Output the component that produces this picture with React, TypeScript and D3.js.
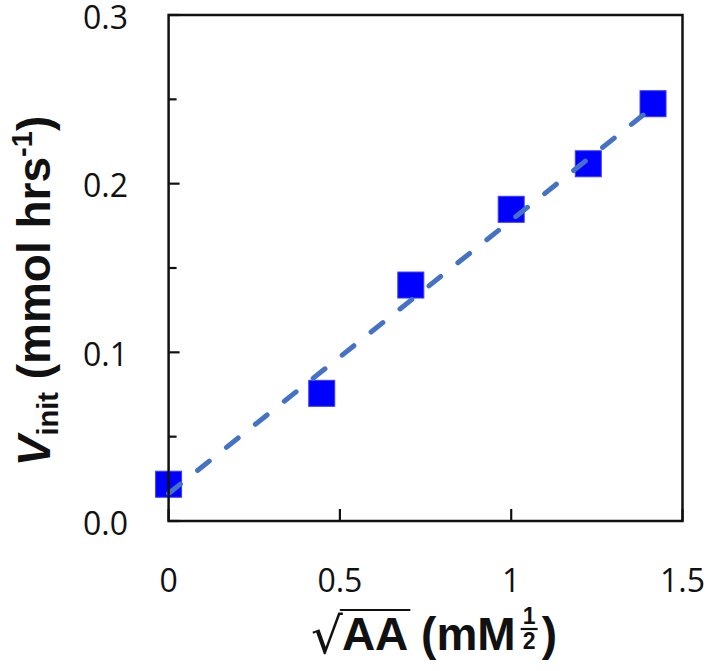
import React, { useEffect, useRef } from "react";
import * as d3 from "d3";

// Data
const sqrtAA = [0, 0.447, 0.707, 1.0, 1.225, 1.414];
const vInit = [0.0218, 0.0757, 0.1399, 0.1848, 0.2118, 0.2474];
const xTicks = [0, 0.5, 1, 1.5];
const xTickLabels = ["0", "0.5", "1", "1.5"];
const yMajorTicks = [0, 0.1, 0.2, 0.3];
const yTickLabels = ["0.0", "0.1", "0.2", "0.3"];
const yMinorTicks = [0.05, 0.15, 0.25];
const fitIntercept = 0.0163;
const fitSlope = 0.162;
const fitRange = [0, 1.414];

const W = 710;
const H = 671;
const PL = 168.6, PR = 682.5, PT = 15, PB = 521;

export default function App() {
  const ref = useRef<SVGSVGElement | null>(null);

  useEffect(() => {
    const svg = d3.select(ref.current);
    svg.selectAll("*").remove();

    const x = d3.scaleLinear().domain([0, 1.5]).range([PL, PR]);
    const y = d3.scaleLinear().domain([0, 0.3]).range([PB, PT]);

    const tickFont = "'Open Sans', 'Liberation Sans', sans-serif";
    const titleFont = "'Liberation Sans', Arial, sans-serif";

    // markers
    const pts = sqrtAA.map((v, i) => ({ x: v, y: vInit[i] }));
    const S = 26;
    svg.append("g").selectAll("rect").data(pts).enter().append("rect")
      .attr("x", d => x(d.x) - S / 2)
      .attr("y", d => y(d.y) - S / 2)
      .attr("width", S).attr("height", S)
      .attr("fill", "#0000FF")
      .attr("stroke", "#3a3aff").attr("stroke-width", 1);

    // trend line
    const fitPts = fitRange.map(v => [v, fitIntercept + fitSlope * v] as [number, number]);
    const line = d3.line<[number, number]>().x(d => x(d[0])).y(d => y(d[1]));
    svg.append("path").attr("d", line(fitPts) as string)
      .attr("fill", "none").attr("stroke", "#4472C4")
      .attr("stroke-width", 5).attr("stroke-linecap", "round")
      .attr("stroke-dasharray", "15 22");

    // frame
    svg.append("rect").attr("x", PL).attr("y", PT)
      .attr("width", PR - PL).attr("height", PB - PT)
      .attr("fill", "none").attr("stroke", "#111").attr("stroke-width", 2.5);

    // y ticks (inward)
    svg.append("g").selectAll("line.maj").data(yMajorTicks).enter().append("line")
      .attr("x1", PL).attr("x2", PL + 11).attr("y1", d => y(d)).attr("y2", d => y(d))
      .attr("stroke", "#111").attr("stroke-width", 2.2);
    svg.append("g").selectAll("line.min").data(yMinorTicks).enter().append("line")
      .attr("x1", PL).attr("x2", PL + 8).attr("y1", d => y(d)).attr("y2", d => y(d))
      .attr("stroke", "#111").attr("stroke-width", 2.2);
    // x ticks (inward)
    svg.append("g").selectAll("line").data(xTicks).enter().append("line")
      .attr("x1", d => x(d)).attr("x2", d => x(d)).attr("y1", PB).attr("y2", PB - 12)
      .attr("stroke", "#111").attr("stroke-width", 2.2);

    // tick labels
    svg.append("g").selectAll("text").data(yMajorTicks).enter().append("text")
      .attr("x", 128).attr("y", d => y(d) + 1)
      .attr("text-anchor", "end").attr("dominant-baseline", "central")
      .attr("font-family", tickFont).attr("font-size", 32).attr("fill", "#111")
      .text((d, i) => yTickLabels[i]);
    svg.append("g").selectAll("text").data(xTicks).enter().append("text")
      .attr("x", d => x(d)).attr("y", 579)
      .attr("text-anchor", "middle").attr("dominant-baseline", "central")
      .attr("font-family", tickFont).attr("font-size", 32).attr("fill", "#111")
      .text((d, i) => xTickLabels[i]);

    // y title
    const yt = svg.append("text")
      .attr("transform", "translate(50,291) rotate(-90)")
      .attr("text-anchor", "middle")
      .attr("font-family", titleFont).attr("font-weight", "bold")
      .attr("font-size", 46).attr("fill", "#111");
    yt.append("tspan").attr("font-style", "italic").text("V");
    yt.append("tspan").attr("font-size", 29).attr("dy", 8).text("init");
    yt.append("tspan").attr("dy", -8).text(" (mmol hrs");
    yt.append("tspan").attr("font-size", 29).attr("dy", -18).text("-1");
    yt.append("tspan").attr("dy", 18).text(")");

    // x title
    const g = svg.append("g").attr("font-family", titleFont).attr("fill", "#111");
    const base = 650;
    let cx = 0;
    const rad = g.append("text").attr("x", cx).attr("y", base + 3)
      .attr("font-size", 50).attr("font-family", "'DejaVu Sans', sans-serif").text("\u221A");
    const rw = (rad.node() as SVGTextElement).getComputedTextLength();
    cx += rw - 1;
    const aa = g.append("text").attr("x", cx).attr("y", base)
      .attr("font-size", 46).attr("font-weight", "bold").text("AA");
    const aw = (aa.node() as SVGTextElement).getComputedTextLength();
    g.append("line").attr("x1", cx - 2).attr("x2", cx + aw + 2)
      .attr("y1", base - 40).attr("y2", base - 40)
      .attr("stroke", "#111").attr("stroke-width", 2);
    cx += aw;
    const p1 = g.append("text").attr("x", cx).attr("y", base)
      .attr("font-size", 46).attr("font-weight", "bold").attr("xml:space", "preserve").text(" (mM");
    cx += (p1.node() as SVGTextElement).getComputedTextLength() + 5;
    const fw = 17;
    g.append("text").attr("x", cx + fw / 2).attr("y", base - 26)
      .attr("text-anchor", "middle").attr("font-size", 23).attr("font-weight", "bold").text("1");
    g.append("line").attr("x1", cx).attr("x2", cx + fw)
      .attr("y1", base - 21).attr("y2", base - 21).attr("stroke", "#111").attr("stroke-width", 2.2);
    g.append("text").attr("x", cx + fw / 2).attr("y", base - 1)
      .attr("text-anchor", "middle").attr("font-size", 23).attr("font-weight", "bold").text("2");
    cx += fw + 4;
    const p2 = g.append("text").attr("x", cx).attr("y", base)
      .attr("font-size", 46).attr("font-weight", "bold").text(")");
    cx += (p2.node() as SVGTextElement).getComputedTextLength();
    g.attr("transform", `translate(${434 - cx / 2},0)`);
  }, []);

  return (
    <svg ref={ref} width={W} height={H}
      style={{ position: "absolute", left: 0, top: 0, background: "#fff" }} />
  );
}
